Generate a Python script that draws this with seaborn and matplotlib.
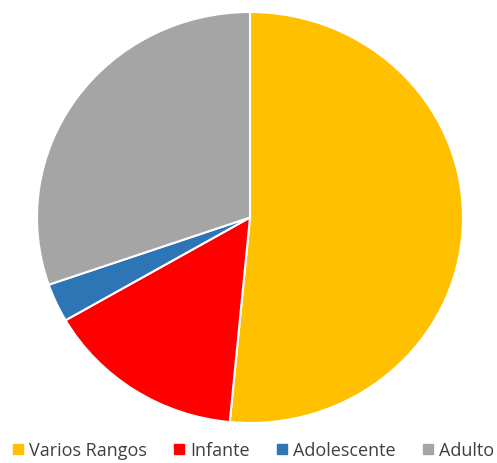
import matplotlib
matplotlib.use("Agg")
import matplotlib.pyplot as plt
from matplotlib.lines import Line2D
import seaborn as sns

categories = ["Varios Rangos", "Infante", "Adolescente", "Adulto"]
counts = [17, 5, 1, 10]
colors = ["#FFC000", "#FF0000", "#2E75B6", "#A5A5A5"]

sns.set_theme(style="white")
plt.rcParams["font.family"] = ["Open Sans", "DejaVu Sans"]

W, H = 497, 464
fig = plt.figure(figsize=(W / 100, H / 100), dpi=100)
ax = fig.add_axes([37 / W, (H - 424) / H, 426 / W, 411 / H])

sns.set_palette(colors)
ax.pie(counts, colors=sns.color_palette(), startangle=90, counterclock=False,
       wedgeprops=dict(edgecolor="white", linewidth=1.5))
ax.set_aspect("auto")
ax.set_xlim(-1, 1)
ax.set_ylim(-1, 1)
ax.axis("off")

handles = [Line2D([0], [0], marker="s", linestyle="none", markersize=7,
                  markerfacecolor=c, markeredgecolor=c) for c in colors]
fig.legend(handles, categories, loc="center", bbox_to_anchor=(0.51, (H - 451) / H),
           ncol=4, frameon=False, fontsize=13, handlelength=0.6,
           handletextpad=0.3, columnspacing=1.5, labelcolor="#404040",
           borderpad=0.0, borderaxespad=0.0)

fig.savefig("out.png", dpi=100, facecolor="white")
